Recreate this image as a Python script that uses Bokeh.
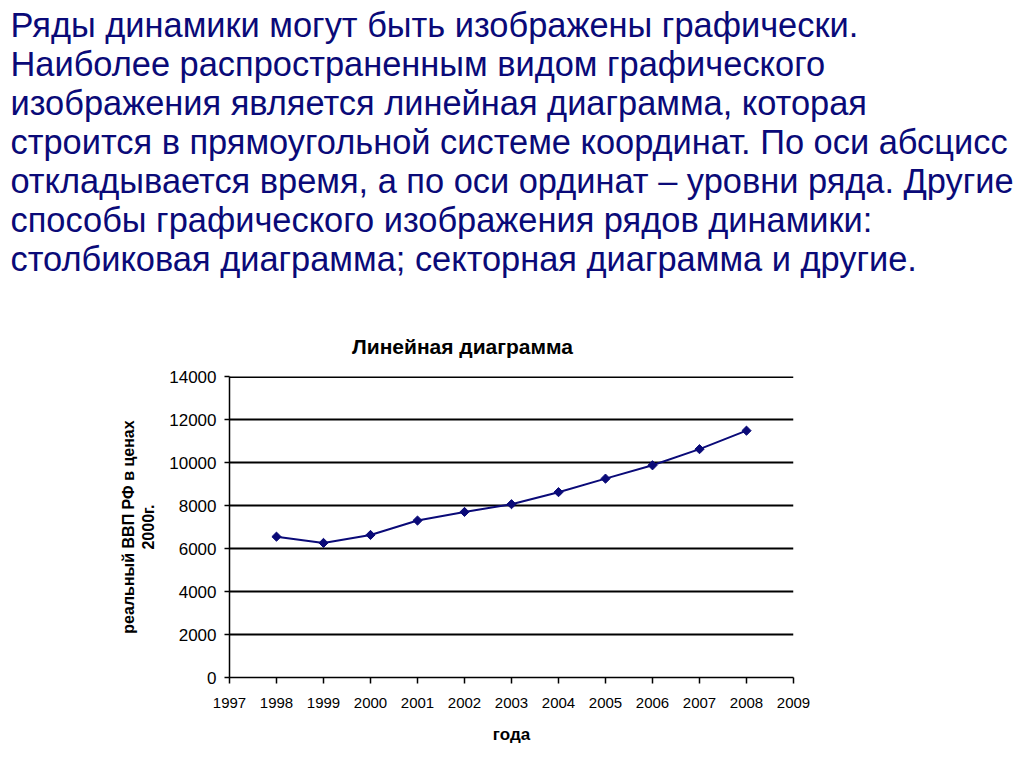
from bokeh.plotting import figure
from bokeh.models import FixedTicker, Span, Range1d, Title
from bokeh.embed import file_html
from bokeh.resources import INLINE
import numpy as np

# ---- data ----
years = [1998, 1999, 2000, 2001, 2002, 2003, 2004, 2005, 2006, 2007, 2008]
gdp = [6550, 6260, 6630, 7300, 7700, 8060, 8620, 9250, 9870, 10620, 11480]
x_ticks = list(range(1997, 2010))
y_ticks = [0, 2000, 4000, 6000, 8000, 10000, 12000, 14000]
paragraph = [
    "Ряды динамики могут быть изображены графически.",
    "Наиболее распространенным видом графического",
    "изображения является линейная диаграмма, которая",
    "строится в прямоугольной системе координат. По оси абсцисс",
    "откладывается время, а по оси ординат – уровни ряда. Другие",
    "способы графического изображения рядов динамики:",
    "столбиковая диаграмма; секторная диаграмма и другие.",
]
chart_title = "Линейная диаграмма"
y_label = "реальный ВВП РФ в ценах\n2000г."
x_label = "года"

# ---- layout (page pixels) ----
W, H = 1024, 767
L, R, T, B = 229, 793, 376, 677  # chart frame on the page
FONT = "Liberation Sans"
NAVY = "#0a0a78"
TH = 1.10                        # rendered title text height (em)

p = figure(width=W, height=H, output_backend="svg", toolbar_location=None,
           x_range=Range1d(1997, 2009), y_range=Range1d(0, 14000),
           min_border_left=L, min_border_right=W - R,
           min_border_top=T, min_border_bottom=H - B)
p.outline_line_color = None
p.background_fill_color = "white"
p.border_fill_color = "white"

# ---- texts above the chart, stacked as titles (nearest the frame first) ----
# a title's text is centred vertically in its panel; panel height = 2 + text + standoff
def add_title(text, fs, style, color, center_y, x_left, bottom):
    vc = center_y - 0.06 * fs
    h = 2 * (bottom - vc)
    standoff = h - 2 - TH * fs
    p.add_layout(Title(text=text, text_font=FONT, text_font_size=f"{fs}px",
                       text_font_style=style, text_color=color, align="left",
                       offset=x_left - L, standoff=standoff), "above")
    return bottom - h

PARA_FS = 34.4
TITLE_FS = 21
LINE_STEP = 38.7
cur = add_title(chart_title, TITLE_FS, "bold", "black", 346, 351.5, T)
line_centers = [27 + LINE_STEP * i for i in range(len(paragraph))]
# blank gap between the paragraph and the chart title
gap_bottom = cur
gap_top = line_centers[-1] + LINE_STEP / 2
gap_fs = 10
p.add_layout(Title(text=" ", text_font=FONT, text_font_size=f"{gap_fs}px",
                   standoff=(gap_bottom - gap_top) - 2 - TH * gap_fs), "above")
cur = gap_top
for i in range(len(paragraph) - 1, -1, -1):
    cur = add_title(paragraph[i], PARA_FS, "normal", NAVY, line_centers[i], 10, cur)

# ---- axes ----
for ax in (p.xaxis[0], p.yaxis[0]):
    ax.axis_line_color = "black"
    ax.axis_line_width = 1.5
    ax.major_tick_line_color = "black"
    ax.major_tick_line_width = 1.5
    ax.major_tick_in = 0
    ax.minor_tick_line_color = None
    ax.major_label_text_font = FONT
    ax.major_label_text_color = "black"
    ax.axis_label_text_font = FONT
    ax.axis_label_text_font_style = "bold"
    ax.axis_label_text_color = "black"

p.xaxis.ticker = FixedTicker(ticks=x_ticks)
p.xaxis.major_tick_out = 6
p.xaxis.major_label_text_font_size = "15px"
p.xaxis.major_label_standoff = 14
p.xaxis.axis_label = x_label
p.xaxis.axis_label_text_font_size = "17px"
p.xaxis.axis_label_standoff = 14

p.yaxis.ticker = FixedTicker(ticks=y_ticks)
p.yaxis.major_tick_out = 5
p.yaxis.major_label_text_font_size = "17px"
p.yaxis.major_label_standoff = 8
p.yaxis.axis_label = y_label
p.yaxis.axis_label_text_font_size = "16px"
p.yaxis.axis_label_standoff = 9

p.xgrid.grid_line_color = None
p.ygrid.ticker = FixedTicker(ticks=y_ticks)
p.ygrid.grid_line_color = "black"
p.ygrid.grid_line_width = 1.8
# the grid skips the line at the range end; draw the top one explicitly
p.add_layout(Span(location=y_ticks[-1], dimension="width",
                  line_color="black", line_width=3))

# ---- series ----
p.line(years, gdp, line_color=NAVY, line_width=2)
p.scatter(years, gdp, marker="square", angle=np.pi / 4, size=6.5,
          fill_color=NAVY, line_color=NAVY)

open("out.html", "w").write(file_html(p, INLINE))
